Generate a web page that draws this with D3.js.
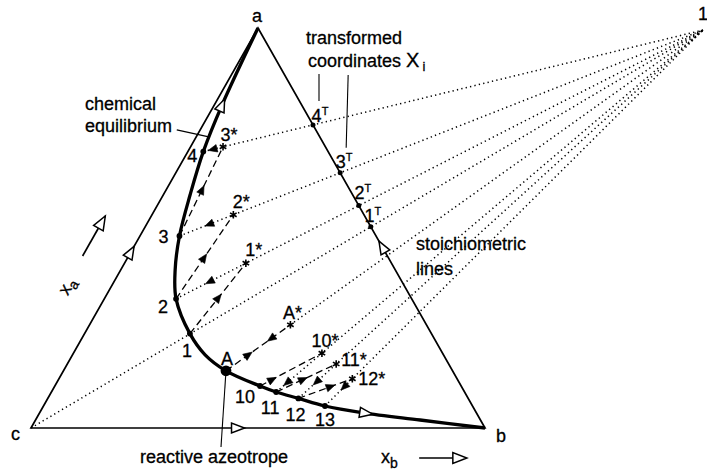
<!DOCTYPE html>
<html>
<head>
<meta charset="utf-8">
<script src="https://cdn.jsdelivr.net/npm/d3@7/dist/d3.min.js"></script>
<style>
    body { margin: 0; background: #fff; }
    text { font-family: "Liberation Sans", Arial, sans-serif; font-size: 18px; fill: #000; stroke: #000; stroke-width: 0.3; }
</style>
</head>
<body>
<svg id="chart" width="707" height="471"></svg>
<script>
// compositions as mole fractions (xa, xb); xc = 1 - xa - xb

// chemical equilibrium curve, from pure a down to pure b
const eqXa = [1.000, 0.808, 0.691, 0.583, 0.480, 0.395, 0.323, 0.236, 0.183, 0.143, 0.105, 0.090, 0.074, 0.055, 0.038, 0.020, 0.000];
const eqXb = [0.000, 0.017, 0.034, 0.059, 0.087, 0.120, 0.158, 0.232, 0.292, 0.358, 0.452, 0.495, 0.552, 0.620, 0.713, 0.847, 1.000];
const eqLabel = ["", "", "4", "", "3", "", "2", "1", "", "A", "10", "11", "12", "13", "", "", ""];

// pole of the stoichiometric lines
const poleXa = 0.995, poleXb = 0.983;

// stoichiometric lines: where each one starts
const stoichStart = ["c", "2", "3", "4", "A*", "11", "12", "13"];

// starred points: reached from starFrom (dashed), lying on the line through starLine
const starLabel = ["1*", "2*", "3*", "A*", "10*", "11*", "12*"];
const starFrom = ["1", "2", "3", "A", "10", "11", "12"];
const starLine = ["2", "3", "4", "A", "11", "12", "13"];
const starXa = [0.412, 0.533, 0.703, 0.258, 0.187, 0.160, 0.123];

// transformed coordinates on the a-b edge
const transLabel = ["1", "2", "3", "4"];
const transLine = ["c", "2", "3", "4"];

const svg = d3.select("#chart");
const x = d3.scaleLinear().domain([0, 1]).range([31, 485]);
const y = d3.scaleLinear().domain([0, 1]).range([428, 28]);
function pos(p) { return [x(p.xb + p.xa / 2), y(p.xa)]; }

const pts = {
    a: { xa: 1, xb: 0 }, b: { xa: 0, xb: 1 }, c: { xa: 0, xb: 0 },
    pole: { xa: poleXa, xb: poleXb }
};
const curve = eqXa.map(function(v, i) { return { xa: v, xb: eqXb[i], name: eqLabel[i] }; });
curve.forEach(function(d) { if (d.name) pts[d.name] = d; });

function onLine(from, xa) {
    const p = pts[from];
    const t = (xa - p.xa) / (poleXa - p.xa);
    return { xa: xa, xb: p.xb + t * (poleXb - p.xb) };
}
starLabel.forEach(function(s, i) { pts[s] = onLine(starLine[i], starXa[i]); });
transLabel.forEach(function(s, i) {
    const p = pts[transLine[i]];
    const t = (1 - p.xa - p.xb) / ((poleXa - p.xa) + (poleXb - p.xb));
    pts[s + "T"] = { xa: p.xa + t * (poleXa - p.xa), xb: p.xb + t * (poleXb - p.xb) };
});

// arrow head, centred on point m and pointing along angle
function arrow(m, ang, len, half, open) {
    const tx = m[0] + Math.cos(ang) * len / 2, ty = m[1] + Math.sin(ang) * len / 2;
    const bx = tx - Math.cos(ang) * len, by = ty - Math.sin(ang) * len;
    const nx = -Math.sin(ang) * half, ny = Math.cos(ang) * half;
    svg.append("path")
        .attr("d", "M" + tx + "," + ty + "L" + (bx + nx) + "," + (by + ny) + "L" + (bx - nx) + "," + (by - ny) + "Z")
        .attr("fill", open ? "#fff" : "#000")
        .attr("stroke", "#000")
        .attr("stroke-width", open ? 1.5 : 0.6);
}
function arrowAlong(p0, p1, f, len, half, open) {
    const a = pos(p0), b = pos(p1);
    const m = [a[0] + f * (b[0] - a[0]), a[1] + f * (b[1] - a[1])];
    arrow(m, Math.atan2(b[1] - a[1], b[0] - a[0]), len, half, open);
}

// stoichiometric lines (dotted)
stoichStart.forEach(function(s) {
    const a = pos(pts[s]), b = pos(pts.pole);
    svg.append("line")
        .attr("x1", a[0]).attr("y1", a[1]).attr("x2", b[0]).attr("y2", b[1])
        .attr("stroke", "#000").attr("stroke-width", 1.5)
        .attr("stroke-dasharray", "1.3 3.2");
});

// reaction steps (dashed)
starLabel.forEach(function(s, i) {
    const a = pos(pts[starFrom[i]]), b = pos(pts[s]);
    svg.append("line")
        .attr("x1", a[0]).attr("y1", a[1]).attr("x2", b[0]).attr("y2", b[1])
        .attr("stroke", "#000").attr("stroke-width", 1.3)
        .attr("stroke-dasharray", "7 4");
});

// triangle
const tri = [pts.c, pts.b, pts.a].map(pos);
svg.append("path")
    .attr("d", "M" + tri.join("L") + "Z")
    .attr("fill", "none").attr("stroke", "#000").attr("stroke-width", 1.7)
    .attr("stroke-linejoin", "miter");

// equilibrium curve
const line = d3.line()
    .x(function(d) { return pos(d)[0]; })
    .y(function(d) { return pos(d)[1]; })
    .curve(d3.curveCatmullRom.alpha(0.5));
const eqPath = svg.append("path")
    .attr("d", line(curve))
    .attr("fill", "none").attr("stroke", "#000").attr("stroke-width", 3.3);

function onCurve(xa) {
    const node = eqPath.node(), L = node.getTotalLength();
    const ty = y(xa);
    let best = 0, bd = 1e9;
    for (let l = 0; l <= L; l += 0.5) {
        const p = node.getPointAtLength(l);
        if (Math.abs(p.y - ty) < bd) { bd = Math.abs(p.y - ty); best = l; }
    }
    const p0 = node.getPointAtLength(Math.max(0, best - 2)), p1 = node.getPointAtLength(Math.min(L, best + 2));
    const p = node.getPointAtLength(best);
    return { p: [p.x, p.y], ang: Math.atan2(p1.y - p0.y, p1.x - p0.x) };
}

// open arrows: edges and curve
arrowAlong(pts.c, pts.a, 0.44, 13, 5, true);
arrowAlong(pts.b, pts.a, 0.453, 13, 5, true);
arrowAlong(pts.c, pts.b, 0.456, 13, 5, true);
let k = onCurve(0.808);
arrow(k.p, k.ang + Math.PI, 13, 5, true);
k = onCurve(0.037);
arrow(k.p, k.ang, 13, 5, true);

// small arrows on the steps
const stepF = [0.51, 0.49, 0.52, 0.35, 0.2, 0.45, 0.6];
const backF = [0.52, 0.45, 0.53, 0.3, 0.76, 0.52, 0.3];
starLabel.forEach(function(s, i) {
    arrowAlong(pts[starFrom[i]], pts[s], stepF[i], 9, 3.8, false);
    arrowAlong(pts[s], pts[starLine[i]], backF[i], 9, 3.8, false);
});

// points
curve.filter(function(d) { return d.name; }).forEach(function(d) {
    const p = pos(d);
    svg.append("circle").attr("cx", p[0]).attr("cy", p[1])
        .attr("r", d.name === "A" ? 5.4 : 2.9).attr("fill", "#000");
});
transLabel.forEach(function(s) {
    const p = pos(pts[s + "T"]);
    svg.append("circle").attr("cx", p[0]).attr("cy", p[1]).attr("r", 2.5).attr("fill", "#000");
});
starLabel.forEach(function(s) {
    const p = pos(pts[s]);
    svg.append("path")
        .attr("d", d3.symbol(d3.symbolAsterisk, 40)())
        .attr("transform", "translate(" + p[0] + "," + p[1] + ")")
        .attr("stroke", "#000").attr("stroke-width", 1.6);
});

// labels
function label(name, dx, dy, anchor) {
    const p = pos(pts[name]);
    return svg.append("text")
        .attr("x", p[0] + dx).attr("y", p[1] + dy + 6)
        .attr("text-anchor", anchor || "middle")
        .text(name);
}
label("4", -11, 4); label("3", -16, 1); label("2", -13, 8); label("1", -3, 17);
label("A", 1, -12); label("10", -15, 11); label("11", -6, 16); label("12", -3, 17); label("13", 0, 14);
label("1*", 8, -13); label("2*", 8, -13); label("3*", 6, -12); label("A*", 2, -12);
label("10*", 3, -12); label("11*", 5, -4, "start"); label("12*", 6, 0, "start");

const tOff = { "4": [10, -9], "3": [7, -11], "2": [7, -13], "1": [5, -11] };
transLabel.forEach(function(s) {
    const p = pos(pts[s + "T"]);
    const t = svg.append("text")
        .attr("x", p[0] + tOff[s][0] - 3).attr("y", p[1] + tOff[s][1] + 6)
        .attr("text-anchor", "middle");
    t.append("tspan").text(s);
    t.append("tspan").attr("dy", -7).style("font-size", "11px").text("T");
});

svg.append("text").attr("x", 257).attr("y", 22).attr("text-anchor", "middle").text("a");
svg.append("text").attr("x", 496).attr("y", 442).text("b");
svg.append("text").attr("x", 11).attr("y", 440).text("c");
svg.append("text").attr("x", 698).attr("y", 20).text("1");

svg.append("text").attr("x", 306).attr("y", 44).text("transformed");
const co = svg.append("text").attr("x", 308).attr("y", 67);
co.append("tspan").text("coordinates ");
co.append("tspan").style("font-size", "20px").text("X");
co.append("tspan").attr("dy", 4).attr("dx", 3).style("font-size", "13px").text("i");

svg.append("text").attr("x", 85).attr("y", 110).text("chemical");
svg.append("text").attr("x", 85).attr("y", 132).text("equilibrium");
svg.append("text").attr("x", 416).attr("y", 250).text("stoichiometric");
svg.append("text").attr("x", 416).attr("y", 275).text("lines");
svg.append("text").attr("x", 140).attr("y", 463).text("reactive  azeotrope");

// leader lines
function lead(x1, y1, x2, y2) {
    svg.append("line").attr("x1", x1).attr("y1", y1).attr("x2", x2).attr("y2", y2)
        .attr("stroke", "#000").attr("stroke-width", 1.1);
}
k = onCurve(0.7275);
lead(k.p[0] - 32, k.p[1] - 7, k.p[0], k.p[1]);
const pA = pos(pts.A);
lead(pA[0], pA[1], pA[0] - 5, 447);
const p4 = pos(pts["4T"]), p3 = pos(pts["3T"]);
lead(p4[0] + 6, 74, p4[0] + 6, p4[1] - 24);
lead(p3[0] + 8, 75, p3[0] + 6, p3[1] - 25);

// axis direction hints
const ea = pos({ xa: 0.43, xb: 0 }), eb = pos({ xa: 0.53, xb: 0 });
const angA = Math.atan2(eb[1] - ea[1], eb[0] - ea[0]);
svg.append("line").attr("x1", ea[0] - 46).attr("y1", ea[1]).attr("x2", eb[0] - 46).attr("y2", eb[1])
    .attr("stroke", "#000").attr("stroke-width", 1.7);
arrow([eb[0] - 46 - 7 * Math.cos(angA), eb[1] - 7 * Math.sin(angA)], angA, 14, 5.5, true);
svg.append("g").attr("transform", "translate(72,289) rotate(-60)")
    .append("text").attr("text-anchor", "middle")
    .call(function(t) {
        t.append("tspan").text("x");
        t.append("tspan").attr("dy", 4).style("font-size", "14px").text("a");
    });

const xb0 = x(0.855), xb1 = x(0.96), yb = y(-0.075);
svg.append("line").attr("x1", xb0).attr("y1", yb).attr("x2", xb1 - 10).attr("y2", yb)
    .attr("stroke", "#000").attr("stroke-width", 1.7);
arrow([xb1 - 7, yb], 0, 14, 5.5, true);
const xbl = svg.append("text").attr("x", 381).attr("y", 463);
xbl.append("tspan").text("x");
xbl.append("tspan").attr("dy", 5).style("font-size", "14px").text("b");
</script>
